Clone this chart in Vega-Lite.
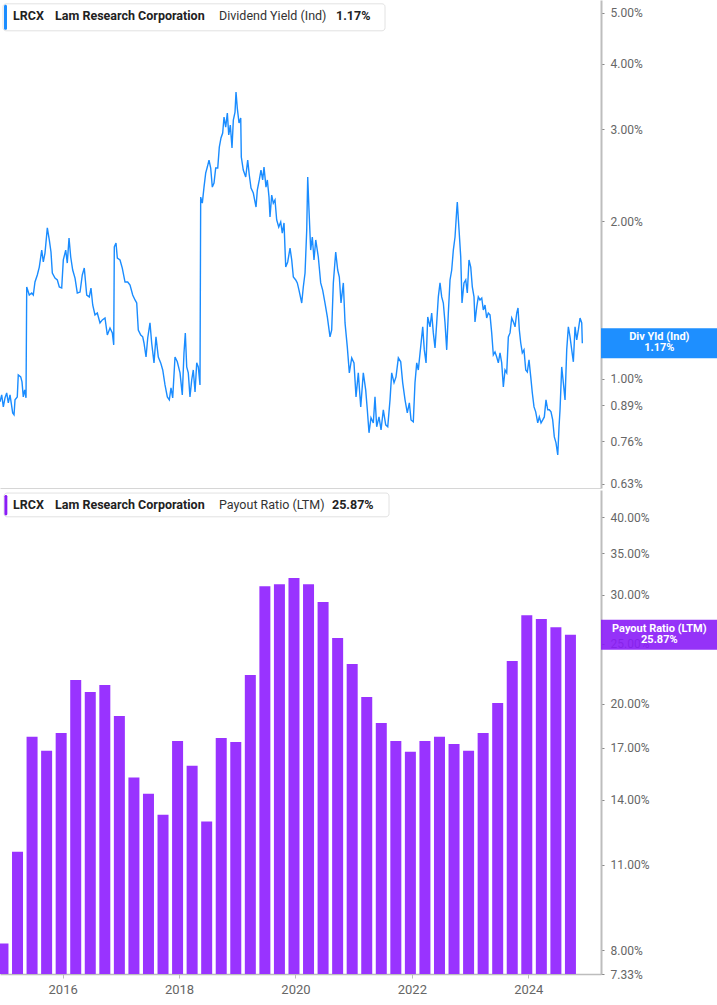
{
  "$schema": "https://vega.github.io/schema/vega-lite/v6.json",
  "padding": 0,
  "background": "white",
  "spacing": 2,
  "bounds": "flush",
  "config": {
    "view": {"stroke": null},
    "font": "Roboto",
    "axis": {"grid": false, "title": null, "labelFont": "Roboto", "labelOverlap": false, "zindex": 0}
  },
  "vconcat": [
    {
      "width": 601,
      "height": 488,
      "layer": [
        {
          "data": {"values": [
            {"t":2014.924,"v":0.904},{"t":2014.953,"v":0.932},{"t":2014.981,"v":0.884},{"t":2015.010,"v":0.920},{"t":2015.039,"v":0.940},{"t":2015.067,"v":0.900},{"t":2015.096,"v":0.932},{"t":2015.142,"v":0.861},{"t":2015.165,"v":0.854},{"t":2015.182,"v":0.912},{"t":2015.221,"v":0.924},{"t":2015.238,"v":1.018},{"t":2015.280,"v":1.009},{"t":2015.302,"v":0.987},{"t":2015.324,"v":0.924},{"t":2015.348,"v":0.953},{"t":2015.371,"v":0.920},{"t":2015.383,"v":1.498},{"t":2015.427,"v":1.446},{"t":2015.469,"v":1.459},{"t":2015.496,"v":1.446},{"t":2015.525,"v":1.531},{"t":2015.565,"v":1.579},{"t":2015.599,"v":1.635},{"t":2015.641,"v":1.762},{"t":2015.668,"v":1.672},{"t":2015.697,"v":1.739},{"t":2015.737,"v":1.942},{"t":2015.771,"v":1.842},{"t":2015.800,"v":1.747},{"t":2015.823,"v":1.593},{"t":2015.869,"v":1.558},{"t":2015.909,"v":1.545},{"t":2015.943,"v":1.498},{"t":2015.984,"v":1.491},
            {"t":2016.012,"v":1.687},{"t":2016.053,"v":1.762},{"t":2016.080,"v":1.664},{"t":2016.110,"v":1.858},{"t":2016.139,"v":1.709},{"t":2016.173,"v":1.614},{"t":2016.213,"v":1.558},{"t":2016.252,"v":1.459},{"t":2016.299,"v":1.465},{"t":2016.338,"v":1.579},{"t":2016.372,"v":1.628},{"t":2016.414,"v":1.446},{"t":2016.458,"v":1.434},{"t":2016.487,"v":1.491},{"t":2016.517,"v":1.384},{"t":2016.556,"v":1.325},{"t":2016.596,"v":1.336},{"t":2016.642,"v":1.279},{"t":2016.682,"v":1.296},{"t":2016.728,"v":1.307},{"t":2016.768,"v":1.213},{"t":2016.814,"v":1.251},{"t":2016.854,"v":1.224},{"t":2016.878,"v":1.161},{"t":2016.888,"v":1.786},{"t":2016.917,"v":1.818},{"t":2016.940,"v":1.701},{"t":2016.986,"v":1.687},
            {"t":2017.025,"v":1.628},{"t":2017.072,"v":1.531},{"t":2017.118,"v":1.531},{"t":2017.158,"v":1.511},{"t":2017.204,"v":1.446},{"t":2017.244,"v":1.415},{"t":2017.273,"v":1.396},{"t":2017.300,"v":1.240},{"t":2017.342,"v":1.213},{"t":2017.376,"v":1.203},{"t":2017.398,"v":1.171},{"t":2017.433,"v":1.101},{"t":2017.462,"v":1.197},{"t":2017.501,"v":1.279},{"t":2017.530,"v":1.171},{"t":2017.570,"v":1.073},{"t":2017.604,"v":1.203},{"t":2017.644,"v":1.101},{"t":2017.685,"v":1.073},{"t":2017.720,"v":1.040},{"t":2017.759,"v":0.974},{"t":2017.799,"v":0.924},{"t":2017.833,"v":0.912},{"t":2017.862,"v":0.961},{"t":2017.891,"v":0.920},{"t":2017.931,"v":1.101},{"t":2017.970,"v":1.078},
            {"t":2018.017,"v":1.027},{"t":2018.056,"v":0.932},{"t":2018.085,"v":1.121},{"t":2018.108,"v":1.224},{"t":2018.132,"v":1.054},{"t":2018.159,"v":1.027},{"t":2018.188,"v":0.924},{"t":2018.218,"v":0.996},{"t":2018.245,"v":1.040},{"t":2018.275,"v":0.944},{"t":2018.304,"v":1.073},{"t":2018.331,"v":1.054},{"t":2018.360,"v":0.974},{"t":2018.372,"v":2.224},{"t":2018.400,"v":2.166},{"t":2018.429,"v":2.324},{"t":2018.458,"v":2.472},{"t":2018.486,"v":2.538},{"t":2018.515,"v":2.617},{"t":2018.544,"v":2.527},{"t":2018.572,"v":2.324},{"t":2018.601,"v":2.366},{"t":2018.630,"v":2.527},{"t":2018.665,"v":2.527},{"t":2018.692,"v":2.771},{"t":2018.721,"v":2.884},{"t":2018.750,"v":2.948},{"t":2018.773,"v":3.162},{"t":2018.802,"v":3.026},{"t":2018.830,"v":3.218},{"t":2018.854,"v":2.922},{"t":2018.881,"v":3.053},{"t":2018.910,"v":2.759},{"t":2018.933,"v":3.120},{"t":2018.962,"v":3.232},{"t":2018.979,"v":3.529},
            {"t":2019.001,"v":3.289},{"t":2019.031,"v":3.080},{"t":2019.060,"v":3.148},{"t":2019.070,"v":2.652},{"t":2019.104,"v":2.505},{"t":2019.146,"v":2.429},{"t":2019.180,"v":2.617},{"t":2019.207,"v":2.451},{"t":2019.237,"v":2.314},{"t":2019.276,"v":2.264},{"t":2019.323,"v":2.129},{"t":2019.345,"v":2.294},{"t":2019.379,"v":2.398},{"t":2019.408,"v":2.505},{"t":2019.437,"v":2.398},{"t":2019.460,"v":2.538},{"t":2019.494,"v":2.324},{"t":2019.517,"v":2.398},{"t":2019.546,"v":2.224},{"t":2019.563,"v":2.038},{"t":2019.592,"v":2.244},{"t":2019.620,"v":2.166},{"t":2019.649,"v":2.196},{"t":2019.678,"v":2.011},{"t":2019.713,"v":1.950},{"t":2019.747,"v":1.994},{"t":2019.774,"v":1.899},{"t":2019.804,"v":1.985},{"t":2019.833,"v":1.635},{"t":2019.867,"v":1.672},{"t":2019.907,"v":1.778},{"t":2019.936,"v":1.687},{"t":2019.964,"v":1.565},
            {"t":2020.005,"v":1.545},{"t":2020.032,"v":1.525},{"t":2020.061,"v":1.478},{"t":2020.108,"v":1.396},{"t":2020.135,"v":1.498},{"t":2020.165,"v":1.593},{"t":2020.194,"v":1.925},{"t":2020.211,"v":2.429},{"t":2020.233,"v":2.101},{"t":2020.262,"v":1.762},{"t":2020.290,"v":1.866},{"t":2020.319,"v":1.687},{"t":2020.349,"v":1.842},{"t":2020.393,"v":1.709},{"t":2020.434,"v":1.525},{"t":2020.468,"v":1.478},{"t":2020.508,"v":1.396},{"t":2020.548,"v":1.313},{"t":2020.594,"v":1.203},{"t":2020.623,"v":1.240},{"t":2020.651,"v":1.525},{"t":2020.692,"v":1.747},{"t":2020.726,"v":1.614},{"t":2020.754,"v":1.565},{"t":2020.783,"v":1.396},{"t":2020.823,"v":1.525},{"t":2020.852,"v":1.279},{"t":2020.891,"v":1.151},{"t":2020.926,"v":1.027},{"t":2020.967,"v":1.097},
            {"t":2021.006,"v":1.073},{"t":2021.041,"v":0.924},{"t":2021.080,"v":1.027},{"t":2021.122,"v":0.884},{"t":2021.166,"v":1.027},{"t":2021.207,"v":0.953},{"t":2021.235,"v":0.873},{"t":2021.264,"v":0.789},{"t":2021.298,"v":0.843},{"t":2021.338,"v":0.824},{"t":2021.367,"v":0.924},{"t":2021.396,"v":0.810},{"t":2021.436,"v":0.846},{"t":2021.471,"v":0.799},{"t":2021.510,"v":0.873},{"t":2021.551,"v":0.817},{"t":2021.586,"v":0.810},{"t":2021.625,"v":0.912},{"t":2021.654,"v":1.027},{"t":2021.694,"v":0.983},{"t":2021.728,"v":1.009},{"t":2021.768,"v":1.097},{"t":2021.809,"v":1.078},{"t":2021.843,"v":0.983},{"t":2021.883,"v":0.912},{"t":2021.922,"v":0.861},{"t":2021.957,"v":0.900},{"t":2021.986,"v":0.835},
            {"t":2022.025,"v":0.828},{"t":2022.054,"v":0.983},{"t":2022.084,"v":1.073},{"t":2022.111,"v":1.040},{"t":2022.152,"v":1.151},{"t":2022.187,"v":1.257},{"t":2022.214,"v":1.136},{"t":2022.244,"v":1.073},{"t":2022.273,"v":1.313},{"t":2022.312,"v":1.257},{"t":2022.341,"v":1.336},{"t":2022.369,"v":1.224},{"t":2022.398,"v":1.146},{"t":2022.427,"v":1.279},{"t":2022.455,"v":1.434},{"t":2022.484,"v":1.525},{"t":2022.513,"v":1.434},{"t":2022.541,"v":1.396},{"t":2022.570,"v":1.279},{"t":2022.599,"v":1.136},{"t":2022.627,"v":1.336},{"t":2022.656,"v":1.545},{"t":2022.685,"v":1.614},{"t":2022.713,"v":1.762},{"t":2022.742,"v":1.866},{"t":2022.771,"v":2.101},{"t":2022.781,"v":2.175},{"t":2022.811,"v":1.925},{"t":2022.840,"v":1.709},{"t":2022.862,"v":1.396},{"t":2022.896,"v":1.525},{"t":2022.926,"v":1.545},{"t":2022.953,"v":1.459},{"t":2022.982,"v":1.687},
            {"t":2023.012,"v":1.635},{"t":2023.039,"v":1.498},{"t":2023.068,"v":1.434},{"t":2023.085,"v":1.285},{"t":2023.115,"v":1.372},{"t":2023.142,"v":1.434},{"t":2023.171,"v":1.415},{"t":2023.201,"v":1.427},{"t":2023.228,"v":1.354},{"t":2023.257,"v":1.384},{"t":2023.286,"v":1.307},{"t":2023.314,"v":1.336},{"t":2023.343,"v":1.325},{"t":2023.372,"v":1.224},{"t":2023.400,"v":1.111},{"t":2023.429,"v":1.126},{"t":2023.458,"v":1.101},{"t":2023.486,"v":1.073},{"t":2023.515,"v":1.121},{"t":2023.544,"v":1.073},{"t":2023.572,"v":0.965},{"t":2023.601,"v":1.040},{"t":2023.630,"v":1.027},{"t":2023.658,"v":1.203},{"t":2023.687,"v":1.224},{"t":2023.716,"v":1.307},{"t":2023.744,"v":1.285},{"t":2023.773,"v":1.257},{"t":2023.802,"v":1.336},{"t":2023.824,"v":1.366},{"t":2023.847,"v":1.240},{"t":2023.871,"v":1.171},{"t":2023.898,"v":1.121},{"t":2023.927,"v":1.136},{"t":2023.957,"v":1.040},{"t":2023.984,"v":1.031},
            {"t":2024.013,"v":1.087},{"t":2024.043,"v":1.009},{"t":2024.070,"v":0.940},{"t":2024.099,"v":0.884},{"t":2024.128,"v":0.865},{"t":2024.163,"v":0.824},{"t":2024.190,"v":0.846},{"t":2024.220,"v":0.824},{"t":2024.249,"v":0.835},{"t":2024.276,"v":0.846},{"t":2024.305,"v":0.912},{"t":2024.335,"v":0.873},{"t":2024.362,"v":0.873},{"t":2024.391,"v":0.865},{"t":2024.420,"v":0.835},{"t":2024.448,"v":0.775},{"t":2024.477,"v":0.755},{"t":2024.507,"v":0.716},{"t":2024.529,"v":0.810},{"t":2024.546,"v":0.873},{"t":2024.575,"v":1.054},{"t":2024.603,"v":0.983},{"t":2024.632,"v":0.912},{"t":2024.661,"v":1.136},{"t":2024.689,"v":1.257},{"t":2024.718,"v":1.203},{"t":2024.747,"v":1.136},{"t":2024.775,"v":1.078},{"t":2024.804,"v":1.257},{"t":2024.833,"v":1.187},{"t":2024.861,"v":1.240},{"t":2024.890,"v":1.307},{"t":2024.919,"v":1.279},{"t":2024.929,"v":1.170}
          ]},
          "mark": {"type": "line", "color": "#1a8cff", "strokeWidth": 1.4, "clip": true},
          "encoding": {
            "x": {"field": "t", "type": "quantitative", "scale": {"domain": [2014.924, 2025.25], "nice": false, "zero": false, "padding": 0},
                  "axis": {"labels": false, "ticks": false, "domain": true, "domainColor": "#d6d6d6", "domainWidth": 1}},
            "y": {"field": "v", "type": "quantitative", "scale": {"type": "log", "domain": [0.619, 5.29], "nice": false},
                  "axis": {"orient": "right", "values": [0.63, 0.76, 0.89, 1, 2, 3, 4, 5], "labelExpr": "format(datum.value, '.2f') + '%'",
                           "labelFontSize": 12, "labelColor": "#666666", "tickColor": "#888888", "tickSize": 3, "labelPadding": 6,
                           "domainColor": "#bdbdbd", "domainWidth": 2}}
          }
        },
        {
          "data": {"values": [{"s": "box"}]},
          "mark": {"type": "rect", "fill": "white", "stroke": "#e2e2e2", "strokeWidth": 1, "cornerRadius": 3},
          "encoding": {"x": {"datum": 2014.976}, "x2": {"datum": 2021.539}, "y": {"datum": 5.202}, "y2": {"datum": 4.62}}
        },
        {
          "data": {"values": [{"s": "stripe"}]},
          "mark": {"type": "rect", "fill": "#1a8cff", "cornerRadius": 1.5},
          "encoding": {"x": {"datum": 2014.993}, "x2": {"datum": 2015.044}, "y": {"datum": 5.179}, "y2": {"datum": 4.639}}
        },
        {
          "data": {"values": [{"s": "LRCX"}]},
          "mark": {"type": "text", "align": "left", "baseline": "middle", "fontSize": 12.5, "fontWeight": "bold", "color": "#222222"},
          "encoding": {"x": {"datum": 2015.147}, "y": {"datum": 4.935}, "text": {"field": "s"}}
        },
        {
          "data": {"values": [{"s": "Lam Research Corporation"}]},
          "mark": {"type": "text", "align": "left", "baseline": "middle", "fontSize": 12.5, "fontWeight": "bold", "color": "#222222"},
          "encoding": {"x": {"datum": 2015.869}, "y": {"datum": 4.935}, "text": {"field": "s"}}
        },
        {
          "data": {"values": [{"s": "Dividend Yield (Ind)"}]},
          "mark": {"type": "text", "align": "left", "baseline": "middle", "fontSize": 12.5, "fontWeight": "normal", "color": "#333333"},
          "encoding": {"x": {"datum": 2018.687}, "y": {"datum": 4.935}, "text": {"field": "s"}}
        },
        {
          "data": {"values": [{"s": "1.17%"}]},
          "mark": {"type": "text", "align": "left", "baseline": "middle", "fontSize": 12.5, "fontWeight": "bold", "color": "#222222"},
          "encoding": {"x": {"datum": 2020.697}, "y": {"datum": 4.935}, "text": {"field": "s"}}
        },
        {
          "data": {"values": [{"s": "tag"}]},
          "mark": {"type": "rect", "fill": "#1e8fff"},
          "encoding": {"x": {"datum": 2025.25}, "x2": {"datum": 2027.244}, "y": {"datum": 1.2497}, "y2": {"datum": 1.0952}}
        },
        {
          "data": {"values": [{"s": "Div Yld (Ind)"}]},
          "mark": {"type": "text", "align": "center", "baseline": "middle", "fontSize": 11, "fontWeight": "bold", "color": "white"},
          "encoding": {"x": {"datum": 2026.252}, "y": {"datum": 1.2012}, "text": {"field": "s"}}
        },
        {
          "data": {"values": [{"s": "1.17%"}]},
          "mark": {"type": "text", "align": "center", "baseline": "middle", "fontSize": 11, "fontWeight": "bold", "color": "white"},
          "encoding": {"x": {"datum": 2026.252}, "y": {"datum": 1.1444}, "text": {"field": "s"}}
        }
      ]
    },
    {
      "width": 601,
      "height": 484,
      "layer": [
        {
          "data": {"values": [
            {"t":2014.975,"p":8.21},{"t":2015.225,"p":11.55},{"t":2015.475,"p":17.70},{"t":2015.725,"p":16.80},{"t":2015.975,"p":17.96},
            {"t":2016.225,"p":21.86},{"t":2016.475,"p":20.91},{"t":2016.725,"p":21.46},{"t":2016.975,"p":19.13},
            {"t":2017.225,"p":15.21},{"t":2017.475,"p":14.33},{"t":2017.725,"p":13.25},{"t":2017.975,"p":17.43},
            {"t":2018.225,"p":15.89},{"t":2018.475,"p":12.92},{"t":2018.725,"p":17.63},{"t":2018.975,"p":17.37},
            {"t":2019.225,"p":22.27},{"t":2019.475,"p":30.99},{"t":2019.725,"p":31.22},{"t":2019.975,"p":31.93},
            {"t":2020.225,"p":31.22},{"t":2020.475,"p":29.21},{"t":2020.725,"p":25.55},{"t":2020.975,"p":23.20},
            {"t":2021.225,"p":20.52},{"t":2021.475,"p":18.64},{"t":2021.725,"p":17.43},{"t":2021.975,"p":16.74},
            {"t":2022.225,"p":17.43},{"t":2022.475,"p":17.70},{"t":2022.725,"p":17.24},{"t":2022.975,"p":16.80},
            {"t":2023.225,"p":17.96},{"t":2023.475,"p":20.07},{"t":2023.725,"p":23.46},{"t":2023.975,"p":27.82},
            {"t":2024.225,"p":27.42},{"t":2024.475,"p":26.61},{"t":2024.725,"p":25.87}
          ]},
          "mark": {"type": "bar", "width": 11, "color": "#9933ff", "clip": true},
          "encoding": {
            "x": {"field": "t", "type": "quantitative", "scale": {"domain": [2014.924, 2025.25], "nice": false, "zero": false, "padding": 0},
                  "axis": {"values": [2016, 2018, 2020, 2022, 2024], "format": "d", "labelFontSize": 13, "labelColor": "#666666",
                           "tickColor": "#bbbbbb", "tickSize": 4, "labelPadding": 5, "domainColor": "#bdbdbd", "domainWidth": 1.5}},
            "y": {"field": "p", "type": "quantitative", "scale": {"type": "log", "domain": [7.33, 44.3], "nice": false},
                  "axis": {"orient": "right", "values": [7.33, 8, 11, 14, 17, 20, 25, 30, 35, 40], "labelExpr": "format(datum.value, '.2f') + '%'",
                           "labelFontSize": 12, "labelColor": "#666666", "tickColor": "#888888", "tickSize": 3, "labelPadding": 6,
                           "domainColor": "#bdbdbd", "domainWidth": 2}},
            "y2": {"datum": 7.33}
          }
        },
        {
          "data": {"values": [{"s": "box"}]},
          "mark": {"type": "rect", "fill": "white", "stroke": "#e2e2e2", "strokeWidth": 1, "cornerRadius": 3},
          "encoding": {"x": {"datum": 2014.993}, "x2": {"datum": 2021.608}, "y": {"datum": 43.8}, "y2": {"datum": 40.1}}
        },
        {
          "data": {"values": [{"s": "stripe"}]},
          "mark": {"type": "rect", "fill": "#8a1cf7", "cornerRadius": 1.5},
          "encoding": {"x": {"datum": 2015.0}, "x2": {"datum": 2015.05}, "y": {"datum": 43.5}, "y2": {"datum": 40.3}}
        },
        {
          "data": {"values": [{"s": "LRCX"}]},
          "mark": {"type": "text", "align": "left", "baseline": "middle", "fontSize": 12.5, "fontWeight": "bold", "color": "#222222"},
          "encoding": {"x": {"datum": 2015.147}, "y": {"datum": 41.9}, "text": {"field": "s"}}
        },
        {
          "data": {"values": [{"s": "Lam Research Corporation"}]},
          "mark": {"type": "text", "align": "left", "baseline": "middle", "fontSize": 12.5, "fontWeight": "bold", "color": "#222222"},
          "encoding": {"x": {"datum": 2015.869}, "y": {"datum": 41.9}, "text": {"field": "s"}}
        },
        {
          "data": {"values": [{"s": "Payout Ratio (LTM)"}]},
          "mark": {"type": "text", "align": "left", "baseline": "middle", "fontSize": 12.5, "fontWeight": "normal", "color": "#333333"},
          "encoding": {"x": {"datum": 2018.687}, "y": {"datum": 41.9}, "text": {"field": "s"}}
        },
        {
          "data": {"values": [{"s": "25.87%"}]},
          "mark": {"type": "text", "align": "left", "baseline": "middle", "fontSize": 12.5, "fontWeight": "bold", "color": "#222222"},
          "encoding": {"x": {"datum": 2020.628}, "y": {"datum": 41.9}, "text": {"field": "s"}}
        },
        {
          "data": {"values": [{"s": "tag"}]},
          "mark": {"type": "rect", "fill": "#8a1cf7", "fillOpacity": 0.9},
          "encoding": {"x": {"datum": 2025.25}, "x2": {"datum": 2027.244}, "y": {"datum": 27.36}, "y2": {"datum": 24.47}}
        },
        {
          "data": {"values": [{"s": "Payout Ratio (LTM)"}]},
          "mark": {"type": "text", "align": "center", "baseline": "middle", "fontSize": 11, "fontWeight": "bold", "color": "white"},
          "encoding": {"x": {"datum": 2026.252}, "y": {"datum": 26.43}, "text": {"field": "s"}}
        },
        {
          "data": {"values": [{"s": "25.87%"}]},
          "mark": {"type": "text", "align": "center", "baseline": "middle", "fontSize": 11, "fontWeight": "bold", "color": "white"},
          "encoding": {"x": {"datum": 2026.252}, "y": {"datum": 25.4}, "text": {"field": "s"}}
        }
      ]
    }
  ]
}
